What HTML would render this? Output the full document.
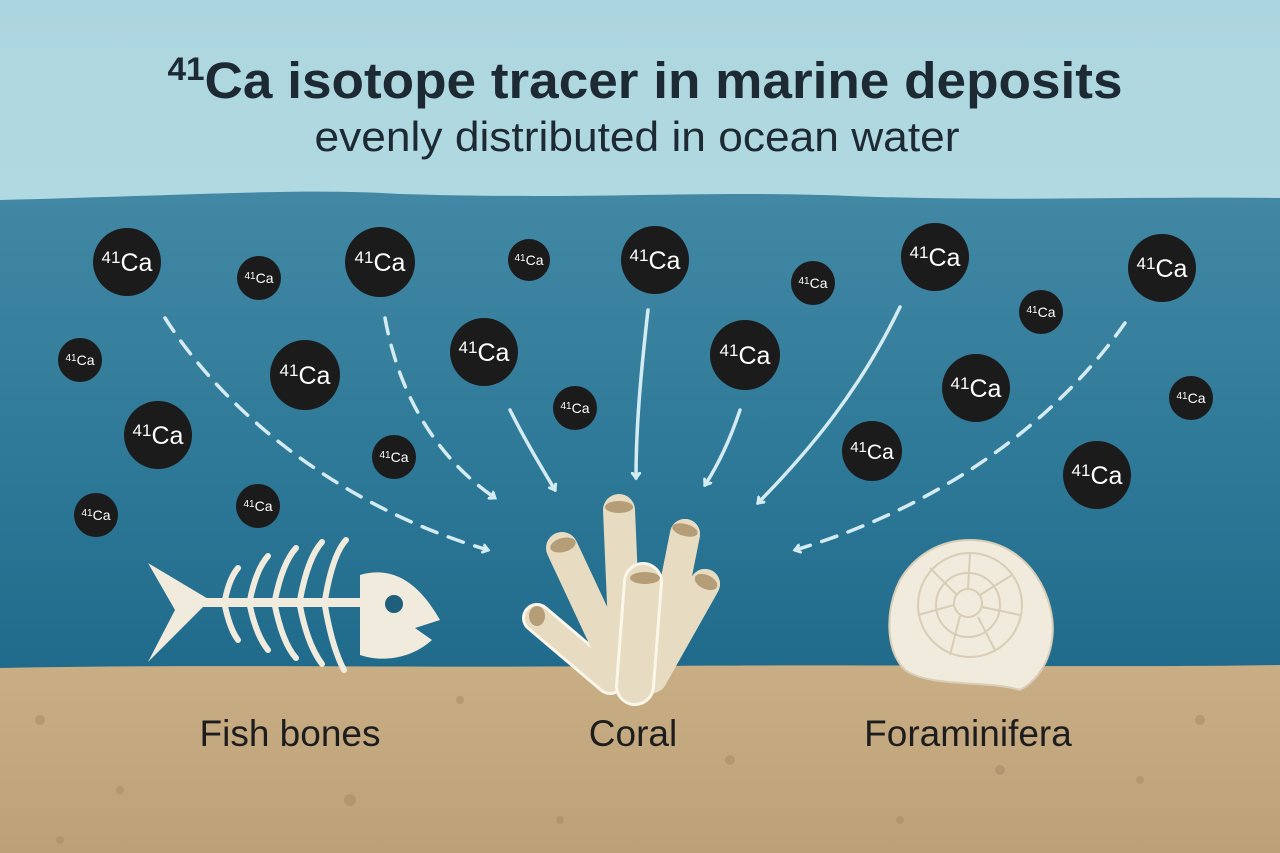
<!DOCTYPE html>
<html><head><meta charset="utf-8"><style>
html,body{margin:0;padding:0;width:1280px;height:853px;overflow:hidden;background:#b9dde4}
svg{display:block}
text{font-family:"Liberation Sans","DejaVu Sans",sans-serif}
</style></head><body>
<svg width="1280" height="853" viewBox="0 0 1280 853" xmlns="http://www.w3.org/2000/svg">
<defs>
<linearGradient id="sky" x1="0" y1="0" x2="0" y2="1"><stop offset="0" stop-color="#acd6df"/><stop offset="1" stop-color="#c3e3e8"/></linearGradient>
<linearGradient id="water" x1="0" y1="0" x2="0" y2="1"><stop offset="0" stop-color="#4288a4"/><stop offset="0.5" stop-color="#2f7a99"/><stop offset="1" stop-color="#1e6889"/></linearGradient>
<linearGradient id="sand" x1="0" y1="0" x2="0" y2="1"><stop offset="0" stop-color="#c9ae85"/><stop offset="1" stop-color="#bda077"/></linearGradient>
<marker id="ah" markerWidth="10" markerHeight="10" refX="6" refY="5" orient="auto" markerUnits="userSpaceOnUse"><path d="M-6,-4 L6,5 L-6,14" fill="none" stroke="#d4ebf2" stroke-width="3" stroke-linecap="round"/></marker>
</defs>
<rect width="1280" height="853" fill="url(#sky)"/>
<path d="M0,200 C200,195 300,188 400,194 C600,200 700,190 850,196 C1000,202 1150,196 1280,198 L1280,700 L0,700Z" fill="url(#water)"/>
<path d="M0,668 C200,664 400,668 640,666 C900,664 1100,668 1280,665 L1280,853 L0,853Z" fill="url(#sand)"/>
<g fill="#a98e68" opacity="0.6">
<circle cx="40" cy="720" r="5"/><circle cx="120" cy="790" r="4"/><circle cx="460" cy="700" r="4"/><circle cx="350" cy="800" r="6"/><circle cx="730" cy="760" r="5"/><circle cx="900" cy="820" r="4"/><circle cx="1200" cy="720" r="5"/><circle cx="1140" cy="780" r="4"/><circle cx="560" cy="820" r="4"/><circle cx="1000" cy="770" r="5"/><circle cx="60" cy="840" r="4"/></g>
<text x="645" y="98" text-anchor="middle" font-size="51" font-weight="bold" fill="#1d2a33" textLength="955" lengthAdjust="spacingAndGlyphs"><tspan font-size="32" dy="-18">41</tspan><tspan dy="18">Ca isotope tracer in marine deposits</tspan></text>
<text x="637" y="151" text-anchor="middle" font-size="42" fill="#1d2a33" textLength="645" lengthAdjust="spacingAndGlyphs">evenly distributed in ocean water</text>

<g fill="none" stroke="#d4ebf2" stroke-width="3.5" stroke-linecap="round">
<path d="M165,318 C230,420 350,510 488,550" stroke-dasharray="16 12" marker-end="url(#ah)"/>
<path d="M385,318 C400,400 440,460 495,498" stroke-dasharray="16 12" marker-end="url(#ah)"/>
<path d="M510,410 C525,440 540,465 555,490" marker-end="url(#ah)"/>
<path d="M648,310 C640,380 636,430 636,478" marker-end="url(#ah)"/>
<path d="M740,410 C730,440 718,465 705,485" marker-end="url(#ah)"/>
<path d="M900,307 C860,390 810,450 758,503" marker-end="url(#ah)"/>
<path d="M1125,323 C1050,430 930,510 795,550" stroke-dasharray="16 12" marker-end="url(#ah)"/>
</g>

<g fill="#1b1b1c">
<circle cx="127" cy="262" r="34"/><circle cx="259" cy="278" r="22"/><circle cx="380" cy="262" r="35"/><circle cx="529" cy="260" r="21"/><circle cx="655" cy="260" r="34"/><circle cx="813" cy="283" r="22"/><circle cx="935" cy="257" r="34"/><circle cx="1041" cy="312" r="22"/><circle cx="1162" cy="268" r="34"/>
<circle cx="80" cy="360" r="22"/><circle cx="305" cy="375" r="35"/><circle cx="484" cy="352" r="34"/><circle cx="575" cy="408" r="22"/><circle cx="745" cy="355" r="35"/><circle cx="976" cy="388" r="34"/><circle cx="1191" cy="398" r="22"/>
<circle cx="158" cy="435" r="34"/><circle cx="394" cy="457" r="22"/><circle cx="872" cy="451" r="30"/><circle cx="1097" cy="475" r="34"/>
<circle cx="96" cy="515" r="22"/><circle cx="258" cy="506" r="22"/>
</g>
<g fill="#fff" text-anchor="middle">
<g font-size="25">
<text x="127" y="271"><tspan font-size="17" dy="-8">41</tspan><tspan dy="8">Ca</tspan></text>
<text x="380" y="271"><tspan font-size="17" dy="-8">41</tspan><tspan dy="8">Ca</tspan></text>
<text x="655" y="269"><tspan font-size="17" dy="-8">41</tspan><tspan dy="8">Ca</tspan></text>
<text x="935" y="266"><tspan font-size="17" dy="-8">41</tspan><tspan dy="8">Ca</tspan></text>
<text x="1162" y="277"><tspan font-size="17" dy="-8">41</tspan><tspan dy="8">Ca</tspan></text>
<text x="305" y="384"><tspan font-size="17" dy="-8">41</tspan><tspan dy="8">Ca</tspan></text>
<text x="484" y="361"><tspan font-size="17" dy="-8">41</tspan><tspan dy="8">Ca</tspan></text>
<text x="745" y="364"><tspan font-size="17" dy="-8">41</tspan><tspan dy="8">Ca</tspan></text>
<text x="976" y="397"><tspan font-size="17" dy="-8">41</tspan><tspan dy="8">Ca</tspan></text>
<text x="158" y="444"><tspan font-size="17" dy="-8">41</tspan><tspan dy="8">Ca</tspan></text>
<text x="1097" y="484"><tspan font-size="17" dy="-8">41</tspan><tspan dy="8">Ca</tspan></text>
<text x="872" y="459" font-size="21"><tspan font-size="15" dy="-7">41</tspan><tspan dy="7">Ca</tspan></text>
</g>
<g font-size="14">
<text x="259" y="283"><tspan font-size="10" dy="-4">41</tspan><tspan dy="4">Ca</tspan></text>
<text x="529" y="265"><tspan font-size="10" dy="-4">41</tspan><tspan dy="4">Ca</tspan></text>
<text x="813" y="288"><tspan font-size="10" dy="-4">41</tspan><tspan dy="4">Ca</tspan></text>
<text x="1041" y="317"><tspan font-size="10" dy="-4">41</tspan><tspan dy="4">Ca</tspan></text>
<text x="80" y="365"><tspan font-size="10" dy="-4">41</tspan><tspan dy="4">Ca</tspan></text>
<text x="575" y="413"><tspan font-size="10" dy="-4">41</tspan><tspan dy="4">Ca</tspan></text>
<text x="1191" y="403"><tspan font-size="10" dy="-4">41</tspan><tspan dy="4">Ca</tspan></text>
<text x="394" y="462"><tspan font-size="10" dy="-4">41</tspan><tspan dy="4">Ca</tspan></text>
<text x="96" y="520"><tspan font-size="10" dy="-4">41</tspan><tspan dy="4">Ca</tspan></text>
<text x="258" y="511"><tspan font-size="10" dy="-4">41</tspan><tspan dy="4">Ca</tspan></text>
</g></g>

<!-- fish skeleton -->
<g fill="#f1ebdd" stroke="#f1ebdd">
<path d="M148,563 L210,600 L148,662 L175,610Z" stroke="none"/>
<rect x="200" y="598" width="170" height="9" rx="4" stroke="none"/>
<g fill="none" stroke-width="6" stroke-linecap="round">
<path d="M225,600 C228,585 232,575 238,568"/><path d="M225,606 C228,620 232,632 238,640"/>
<path d="M250,600 C254,580 260,565 268,556"/><path d="M250,606 C254,625 260,640 268,650"/>
<path d="M275,600 C280,575 287,558 296,548"/><path d="M275,606 C280,630 287,648 296,658"/>
<path d="M300,600 C305,572 313,552 322,542"/><path d="M300,606 C305,632 313,652 322,664"/>
<path d="M325,600 C330,570 337,550 346,540"/><path d="M325,606 C330,635 337,657 344,670"/>
</g>
<path d="M360,575 C395,565 420,585 440,620 L415,628 L432,640 C410,660 380,662 360,655Z" stroke="none"/>
</g>
<circle cx="394" cy="604" r="9" fill="#1f5f7b"/>

<!-- coral -->
<g stroke-linecap="round" fill="none">
<g stroke="#fbf6ea" stroke-width="30">
<line x1="537" y1="618" x2="610" y2="680"/><line x1="562" y1="548" x2="620" y2="672"/>
<line x1="619" y1="510" x2="625" y2="650"/><line x1="685" y1="534" x2="660" y2="660"/>
<line x1="705" y1="584" x2="652" y2="678"/><line x1="643" y1="582" x2="635" y2="686"/>
</g>
</g>
<g stroke-linecap="round" fill="none" stroke="#e7dcc2">
<line x1="537" y1="618" x2="610" y2="680" stroke-width="24"/>
<line x1="562" y1="548" x2="620" y2="672" stroke-width="32"/>
<line x1="619" y1="510" x2="625" y2="650" stroke-width="32"/>
<line x1="685" y1="534" x2="660" y2="660" stroke-width="30"/>
<line x1="705" y1="584" x2="652" y2="678" stroke-width="30"/>
</g>
<line x1="643" y1="582" x2="635" y2="686" stroke="#fbf6ea" stroke-width="40" stroke-linecap="round"/>
<line x1="643" y1="582" x2="635" y2="686" stroke="#e7dcc2" stroke-width="34" stroke-linecap="round"/>
<g fill="#b59d78">
<ellipse cx="619" cy="507" rx="14" ry="6"/><ellipse cx="563" cy="545" rx="13" ry="7" transform="rotate(-15 563 545)"/>
<ellipse cx="685" cy="530" rx="13" ry="6" transform="rotate(15 685 530)"/><ellipse cx="706" cy="582" rx="12" ry="7" transform="rotate(25 706 582)"/>
<ellipse cx="645" cy="578" rx="15" ry="6"/><ellipse cx="537" cy="616" rx="8" ry="10"/>
</g>

<!-- foraminifera shell -->
<g fill="#f1ebdd" stroke="#d8cdb6" stroke-width="2">
<path d="M970,540 C1030,540 1058,600 1052,640 C1048,670 1030,685 1020,690 C990,680 930,688 905,670 C885,650 885,610 900,580 C915,555 940,540 970,540Z"/>
<circle cx="970" cy="605" r="52" fill="none"/>
<circle cx="968" cy="605" r="32" fill="none"/>
<circle cx="968" cy="603" r="14" fill="none"/>
<g fill="none"><path d="M970,553 L968,589"/><path d="M1012,575 L980,595"/><path d="M1020,615 L982,607"/><path d="M995,650 L978,617"/><path d="M950,655 L960,616"/><path d="M918,615 L954,605"/><path d="M930,568 L956,594"/></g>
</g>

<g font-size="37" fill="#1d1d1d" text-anchor="middle">
<text x="290" y="746">Fish bones</text>
<text x="633" y="746">Coral</text>
<text x="968" y="746">Foraminifera</text>
</g>
</svg>
</body></html>
